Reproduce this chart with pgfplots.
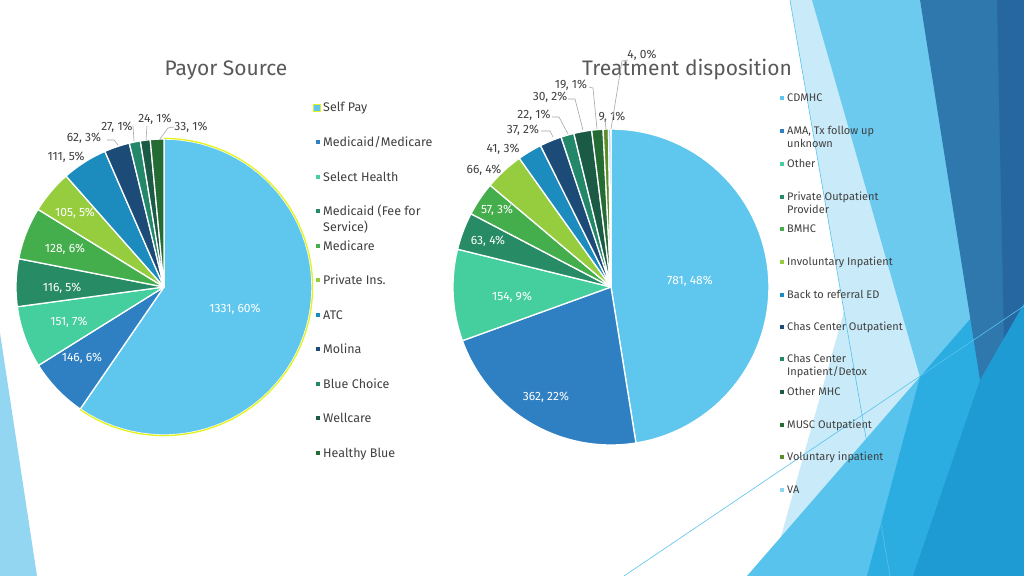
\documentclass[border=0pt]{standalone}
\usepackage{pgfplots}
\usepackage{pgfplotstable}
\pgfplotsset{compat=1.18}
\usepackage{fontspec}
\setmainfont{Fira Sans}

% slice colours
\definecolor{pA0}{HTML}{5FC7EE}
\definecolor{pA1}{HTML}{2F80C3}
\definecolor{pA2}{HTML}{45CE9E}
\definecolor{pA3}{HTML}{278B66}
\definecolor{pA4}{HTML}{44AE4C}
\definecolor{pA5}{HTML}{96CD3E}
\definecolor{pA6}{HTML}{1C8BBE}
\definecolor{pA7}{HTML}{1C4B77}
\definecolor{pA8}{HTML}{23876A}
\definecolor{pA9}{HTML}{1B5A45}
\definecolor{pA10}{HTML}{256B34}
\definecolor{pB0}{HTML}{5FC7EE}
\definecolor{pB1}{HTML}{2F80C3}
\definecolor{pB2}{HTML}{45CE9E}
\definecolor{pB3}{HTML}{278B66}
\definecolor{pB4}{HTML}{44AE4C}
\definecolor{pB5}{HTML}{96CD3E}
\definecolor{pB6}{HTML}{1C8BBE}
\definecolor{pB7}{HTML}{1C4B77}
\definecolor{pB8}{HTML}{23876A}
\definecolor{pB9}{HTML}{1B5A45}
\definecolor{pB10}{HTML}{256B34}
\definecolor{pB11}{HTML}{5E8C2A}
\definecolor{pB12}{HTML}{8CD6F2}
\definecolor{selyel}{HTML}{E4F21C}
\definecolor{titlegray}{HTML}{595959}
\definecolor{txtgray}{HTML}{404040}
\definecolor{leadgray}{HTML}{A6A6A6}
% background colours
\definecolor{bgPale}{HTML}{C9EAF8}
\definecolor{bgSky}{HTML}{6CCAEF}
\definecolor{bgSkyB}{HTML}{58C3EC}
\definecolor{bgBright}{HTML}{2BADE2}
\definecolor{bgMed}{HTML}{1F9BD4}
\definecolor{bgSteel}{HTML}{2E78AE}
\definecolor{bgDark}{HTML}{2666A1}
\definecolor{bgLeft}{HTML}{92D6F2}

\pgfplotstableread{
value
1331
146
151
116
128
105
111
62
27
24
33
}\payor

\pgfplotstableread{
value
781
362
154
63
57
66
41
37
22
30
19
9
4
}\dispo

\newcommand\lblfont{\fontsize{12bp}{14bp}\selectfont}
\newcommand\lgAfont{\fontsize{12.5bp}{14bp}\selectfont}
\newcommand\lgBfont{\fontsize{11bp}{13bp}\selectfont}
\newcommand\ttlfont{\fontsize{21bp}{24bp}\selectfont}

% #1 table, #2 cx, #3 cy, #4 r, #5 colour prefix
\newcommand\drawpie[5]{%
  \pgfplotstablegetrowsof{#1}%
  \pgfmathtruncatemacro\nrows{\pgfplotsretval-1}%
  \def\pietotal{0}%
  \pgfplotsforeachungrouped \i in {0,...,\nrows}{%
    \pgfplotstablegetelem{\i}{value}\of{#1}%
    \pgfmathsetmacro\pietotal{\pietotal+\pgfplotsretval}}%
  \def\pieang{-90}%
  \pgfplotsforeachungrouped \i in {0,...,\nrows}{%
    \pgfplotstablegetelem{\i}{value}\of{#1}%
    \pgfmathsetmacro\piefrac{\pgfplotsretval/\pietotal}%
    \pgfmathsetmacro\pieend{\pieang+360*\piefrac}%
    \ifnum\i=0 \global\let\firstend\pieend\fi
    \edef\doslice{\noexpand\addplot[fill=#5\i, draw=white, line width=1.3bp, line join=round,
      domain=\pieang:\pieend, samples=60, variable=\noexpand\t]
      ({#2+#4*cos(\noexpand\t)},{#3+#4*sin(\noexpand\t)}) -- (axis cs:#2,#3) -- cycle;}%
    \doslice
    \let\pieang\pieend
  }}

\begin{document}
\begin{tikzpicture}
\path[use as bounding box, fill=white] (0,0) rectangle (1024bp,576bp);
% decorative background (image coordinates)
\begin{scope}[x=1bp, y=-1bp, yshift=576bp]
  \clip (0,0) rectangle (1024,576);
  \fill[bgLeft] (0,333) -- (37,576) -- (0,576) -- cycle;
  \fill[bgPale] (790,0) -- (1024,0) -- (1024,576) -- (890,576) -- cycle;
  \fill[bgPale] (931,0) -- (1024,0) -- (1024,576) -- (770,576) -- cycle;
  \fill[bgSky] (812,0) -- (920,0) -- (985,380) -- (920,377) -- cycle;
  \fill[bgSkyB] (1024,257) -- (1024,576) -- (747,576) -- cycle;
  \fill[bgBright] (1024,257) -- (1024,576) -- (867,576) -- (920,377) -- cycle;
  \fill[bgMed] (980,380) -- (1024,303) -- (1024,576) -- (913,576) -- cycle;
  \fill[bgSteel] (920,0) -- (1024,0) -- (1024,303) -- (980,380) -- cycle;
  \fill[bgDark] (997,0) -- (1024,0) -- (1024,303) -- (1004,338) -- cycle;
  \draw[bgSkyB, line width=0.6bp] (790,0) -- (890,576);
  \draw[bgSkyB, line width=0.6bp] (624,576) -- (1024,306);
\end{scope}

\begin{axis}[at={(0,0)}, anchor=south west, width=1024bp, height=576bp,
  scale only axis, xmin=0, xmax=1024, ymin=0, ymax=576, y dir=reverse,
  hide axis, clip=false]

% ---------- Payor Source ----------
\drawpie{\payor}{164}{287}{148}{pA}
\addplot[draw=selyel, line width=1.3bp, domain=-90:\firstend, samples=80, variable=\t]
  ({164+148.6*cos(\t)},{287+148.6*sin(\t)});

\node[font=\ttlfont, text=titlegray, anchor=base] at (axis cs:226,76) {Payor Source};

\node[font=\lblfont, inner sep=0pt, text=white] at (axis cs:235,309) {1331, 60\%};
\node[font=\lblfont, inner sep=0pt, text=white] at (axis cs:82,358) {146, 6\%};
\node[font=\lblfont, inner sep=0pt, text=white] at (axis cs:69,322) {151, 7\%};
\node[font=\lblfont, inner sep=0pt, text=white] at (axis cs:62,288) {116, 5\%};
\node[font=\lblfont, inner sep=0pt, text=white] at (axis cs:65,249) {128, 6\%};
\node[font=\lblfont, inner sep=0pt, text=white] at (axis cs:75,213) {105, 5\%};
\node[font=\lblfont, inner sep=0pt, text=txtgray] at (axis cs:66,157) {111, 5\%};
\node[font=\lblfont, inner sep=0pt, text=txtgray] at (axis cs:84,138) {62, 3\%};
\node[font=\lblfont, inner sep=0pt, text=txtgray] at (axis cs:117,127) {27, 1\%};
\node[font=\lblfont, inner sep=0pt, text=txtgray] at (axis cs:155,119) {24, 1\%};
\node[font=\lblfont, inner sep=0pt, text=txtgray] at (axis cs:191,127) {33, 1\%};
\draw[leadgray, line width=0.6bp] (axis cs:107,140) -- (axis cs:114,140) -- (axis cs:118,145);
\draw[leadgray, line width=0.6bp] (axis cs:133,126) -- (axis cs:134,141);
\draw[leadgray, line width=0.6bp] (axis cs:147,126) -- (axis cs:146,140);
\draw[leadgray, line width=0.6bp] (axis cs:174,127) -- (axis cs:168,128) -- (axis cs:160,139);

% ---------- Treatment disposition ----------
\drawpie{\dispo}{611}{287}{158}{pB}

\node[font=\ttlfont, text=titlegray, anchor=base] at (axis cs:687,76) {Treatment disposition};

\node[font=\lblfont, inner sep=0pt, text=white] at (axis cs:690,281) {781, 48\%};
\node[font=\lblfont, inner sep=0pt, text=white] at (axis cs:546,397) {362, 22\%};
\node[font=\lblfont, inner sep=0pt, text=white] at (axis cs:512,297) {154, 9\%};
\node[font=\lblfont, inner sep=0pt, text=white] at (axis cs:488,241) {63, 4\%};
\node[font=\lblfont, inner sep=0pt, text=white] at (axis cs:497,210) {57, 3\%};
\node[font=\lblfont, inner sep=0pt, text=txtgray] at (axis cs:484,170) {66, 4\%};
\node[font=\lblfont, inner sep=0pt, text=txtgray] at (axis cs:503,149) {41, 3\%};
\node[font=\lblfont, inner sep=0pt, text=txtgray] at (axis cs:523,130) {37, 2\%};
\node[font=\lblfont, inner sep=0pt, text=txtgray] at (axis cs:534,115) {22, 1\%};
\node[font=\lblfont, inner sep=0pt, text=txtgray] at (axis cs:550,97) {30, 2\%};
\node[font=\lblfont, inner sep=0pt, text=txtgray] at (axis cs:571,85) {19, 1\%};
\node[font=\lblfont, inner sep=0pt, text=txtgray] at (axis cs:612,117) {9, 1\%};
\node[font=\lblfont, inner sep=0pt, text=txtgray] at (axis cs:642,55) {4, 0\%};
\draw[leadgray, line width=0.6bp] (axis cs:541,131) -- (axis cs:550,131) -- (axis cs:553,137);
\draw[leadgray, line width=0.6bp] (axis cs:552,117) -- (axis cs:559,117) -- (axis cs:568,134);
\draw[leadgray, line width=0.6bp] (axis cs:568,99) -- (axis cs:575,99) -- (axis cs:583,130);
\draw[leadgray, line width=0.6bp] (axis cs:589,87) -- (axis cs:593,88) -- (axis cs:597,129);
\draw[leadgray, line width=0.6bp] (axis cs:605,119) -- (axis cs:606,129);
\draw[leadgray, line width=0.6bp] (axis cs:628,60) -- (axis cs:622,61) -- (axis cs:611,129);
\end{axis}

% legends (image coordinates)
\begin{scope}[x=1bp, y=-1bp, yshift=576bp]
\fill[pA0, draw=selyel, line width=1.3bp] (313.5,104.5) rectangle (320.5,111.5);
\foreach \cc/\yy in {1/142,2/177,3/211,4/246,5/280,6/315,7/349,8/384,9/418,10/453}{
  \fill[pA\cc] (315.5,\yy-2) rectangle (319.5,\yy+2);
}
\begin{scope}[every node/.style={font=\lgAfont, text=txtgray, anchor=base west, inner sep=0pt}]
\node at (323,112) {Self Pay};
\node at (323,147) {Medicaid/Medicare};
\node at (323,182) {Select Health};
\node at (323,216) {Medicaid (Fee for};
\node at (323,232) {Service)};
\node at (323,251) {Medicare};
\node at (323,285) {Private Ins.};
\node at (323,320) {ATC};
\node at (323,354) {Molina};
\node at (323,389) {Blue Choice};
\node at (323,423) {Wellcare};
\node at (323,458) {Healthy Blue};
\end{scope}
\foreach \cc/\yy in {0/98,1/131,2/164,3/197,4/229,5/262,6/295,7/327,8/359,9/392,10/425,11/457,12/490}{
  \fill[pB\cc] (780,\yy-2) rectangle (784,\yy+2);
}
\begin{scope}[every node/.style={font=\lgBfont, text=txtgray, anchor=base west, inner sep=0pt}]
\node at (787,102) {CDMHC};
\node at (787,135) {AMA, Tx follow up};
\node at (787,148) {unknown};
\node at (787,168) {Other};
\node at (787,201) {Private Outpatient};
\node at (787,214) {Provider};
\node at (787,233) {BMHC};
\node at (787,266) {Involuntary Inpatient};
\node at (787,299) {Back to referral ED};
\node at (787,331) {Chas Center Outpatient};
\node at (787,363) {Chas Center};
\node at (787,376) {Inpatient/Detox};
\node at (787,396) {Other MHC};
\node at (787,429) {MUSC Outpatient};
\node at (787,461) {Voluntary inpatient};
\node at (787,494) {VA};
\end{scope}
\end{scope}
\end{tikzpicture}
\end{document}
